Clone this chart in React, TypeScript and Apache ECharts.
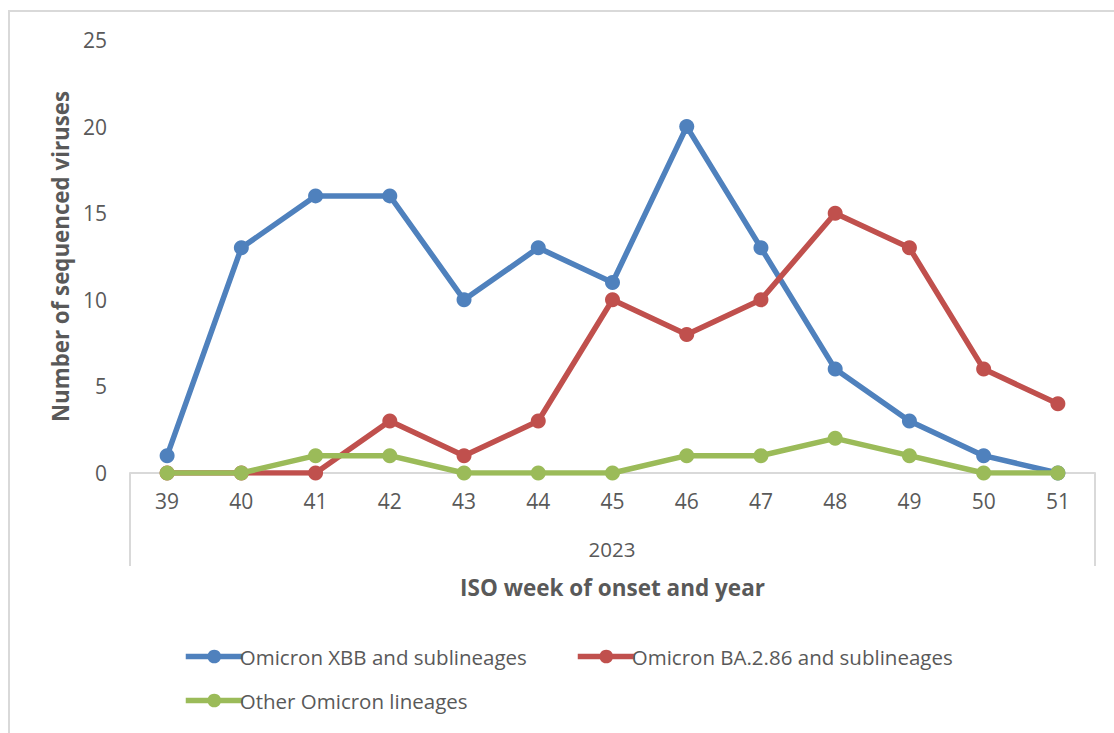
import React, { useEffect, useRef } from "react";
import * as echarts from "echarts";

const weeks = ["39", "40", "41", "42", "43", "44", "45", "46", "47", "48", "49", "50", "51"];
const xbb = [1, 13, 16, 16, 10, 13, 11, 20, 13, 6, 3, 1, 0];
const ba286 = [0, 0, 0, 3, 1, 3, 10, 8, 10, 15, 13, 6, 4];
const other = [0, 0, 1, 1, 0, 0, 0, 1, 1, 2, 1, 0, 0];
const seriesNames = [
  "Omicron XBB and sublineages",
  "Omicron BA.2.86 and sublineages",
  "Other Omicron lineages",
];
const colors = ["#4F81BD", "#C0504D", "#9BBB59"];
const yearLabel = "2023";

const FONT = "'Open Sans', sans-serif";
const TXT = "#595959";

export default function App() {
  const ref = useRef<HTMLDivElement>(null);
  useEffect(() => {
    if (!ref.current) return;
    const chart = echarts.init(ref.current, undefined, { renderer: "svg" });
    const mk = (name: string, data: number[], color: string, z: number) => ({
      name,
      type: "line",
      data,
      z,
      symbol: "circle",
      symbolSize: 15,
      lineStyle: { width: 5.5, color },
      itemStyle: { color },
      emphasis: { disabled: true },
    });
    const legendBase = {
      itemWidth: 57,
      itemHeight: 17,
      lineStyle: { width: 5.5 },
      textStyle: { fontFamily: FONT, fontSize: 20.5, color: TXT, padding: [0, 0, 0, -8] },
      padding: 0,
    };
    chart.setOption({
      animation: false,
      textStyle: { fontFamily: FONT },
      grid: { left: 130, right: 19, top: 40, bottom: 260, containLabel: false },
      xAxis: {
        type: "category",
        data: weeks,
        boundaryGap: true,
        axisLine: { lineStyle: { color: "#D9D9D9", width: 2 } },
        axisTick: { show: false },
        axisLabel: { color: TXT, fontSize: 21, fontFamily: FONT, margin: 17 },
        name: "ISO week of onset and year",
        nameLocation: "middle",
        nameGap: 103,
        nameTextStyle: { color: TXT, fontSize: 22.5, fontWeight: "bold", fontFamily: FONT },
      },
      yAxis: {
        type: "value",
        min: 0,
        max: 25,
        interval: 5,
        splitLine: { show: false },
        axisLine: { show: false },
        axisTick: { show: false },
        axisLabel: { color: TXT, fontSize: 21, fontFamily: FONT, margin: 23 },
        name: "Number of sequenced viruses",
        nameLocation: "middle",
        nameGap: 59,
        nameTextStyle: { color: TXT, fontSize: 22.3, fontWeight: "bold", fontFamily: FONT },
      },
      legend: [
        { ...legendBase, data: [seriesNames[0]], left: 183, top: 646 },
        { ...legendBase, data: [seriesNames[1]], left: 575, top: 646 },
        { ...legendBase, data: [seriesNames[2]], left: 183, top: 690 },
      ],
      graphic: [
        {
          type: "rect",
          shape: { x: 9, y: 11, width: 1130, height: 760 },
          style: { fill: "none", stroke: "#D9D9D9", lineWidth: 2 },
          silent: true,
        },
        {
          type: "line",
          shape: { x1: 130, y1: 473, x2: 130, y2: 566 },
          style: { stroke: "#D9D9D9", lineWidth: 2 },
        },
        {
          type: "line",
          shape: { x1: 1095, y1: 473, x2: 1095, y2: 566 },
          style: { stroke: "#D9D9D9", lineWidth: 2 },
        },
        {
          type: "text",
          x: 612,
          y: 549,
          style: {
            text: yearLabel,
            fill: TXT,
            fontSize: 20.5,
            fontFamily: FONT,
            textAlign: "center",
            textVerticalAlign: "middle",
          },
        },
      ],
      series: [
        mk(seriesNames[0], xbb, colors[0], 2),
        mk(seriesNames[1], ba286, colors[1], 3),
        mk(seriesNames[2], other, colors[2], 4),
      ],
    });
    return () => chart.dispose();
  }, []);
  return (
    <div
      ref={ref}
      style={{ position: "fixed", left: 0, top: 0, width: 1114, height: 733, background: "#fff" }}
    />
  );
}
